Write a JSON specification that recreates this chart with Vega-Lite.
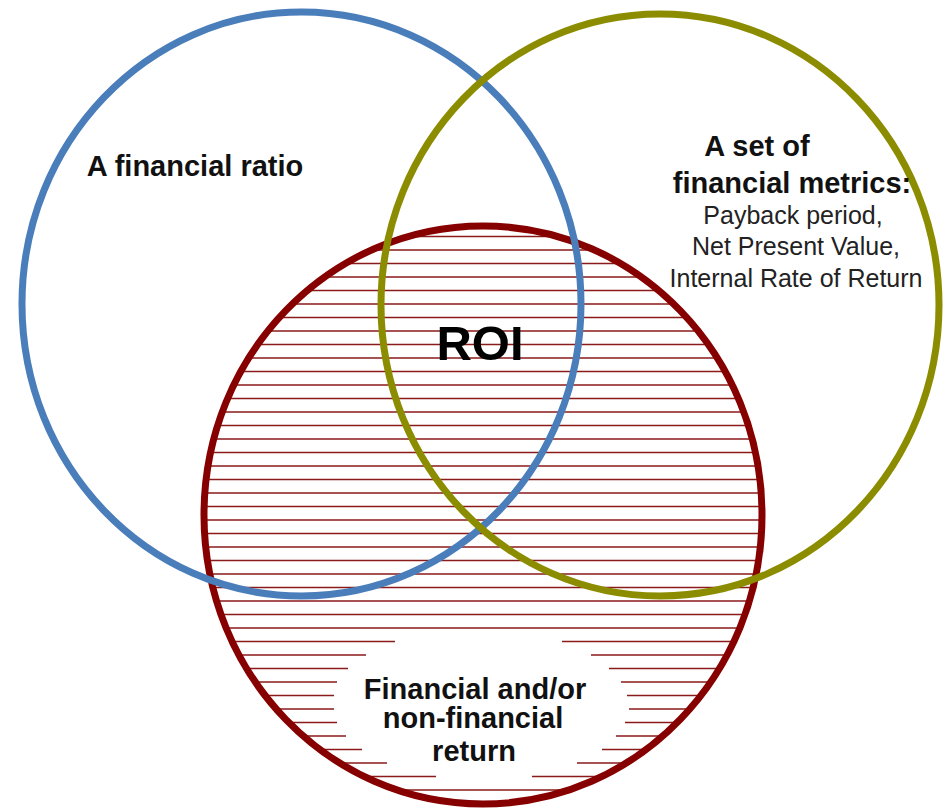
{
  "$schema": "https://vega.github.io/schema/vega-lite/v6.json",
  "width": 946,
  "height": 811,
  "padding": 0,
  "autosize": {"type": "none"},
  "background": "white",
  "config": {"view": {"stroke": null}},
  "datasets": {
    "hatch": [
      {"y": 236.5, "x1": 409, "x2": 558},
      {"y": 250, "x1": 372, "x2": 594},
      {"y": 263.5, "x1": 346, "x2": 621},
      {"y": 277, "x1": 325, "x2": 641},
      {"y": 290.5, "x1": 307, "x2": 659},
      {"y": 304, "x1": 292, "x2": 674},
      {"y": 317.5, "x1": 279, "x2": 687},
      {"y": 331, "x1": 268, "x2": 698},
      {"y": 344.5, "x1": 258, "x2": 708},
      {"y": 358, "x1": 249, "x2": 717},
      {"y": 371.5, "x1": 241, "x2": 725},
      {"y": 385, "x1": 234, "x2": 732},
      {"y": 398.5, "x1": 228, "x2": 738},
      {"y": 412, "x1": 222, "x2": 744},
      {"y": 425.5, "x1": 218, "x2": 748},
      {"y": 439, "x1": 214, "x2": 752},
      {"y": 452.5, "x1": 211, "x2": 755},
      {"y": 466, "x1": 208, "x2": 758},
      {"y": 479.5, "x1": 206, "x2": 760},
      {"y": 493, "x1": 205, "x2": 761},
      {"y": 506.5, "x1": 204, "x2": 762},
      {"y": 520, "x1": 204, "x2": 762},
      {"y": 533.5, "x1": 205, "x2": 761},
      {"y": 547, "x1": 206, "x2": 760},
      {"y": 560.5, "x1": 208, "x2": 758},
      {"y": 574, "x1": 210, "x2": 756},
      {"y": 587.5, "x1": 213, "x2": 753},
      {"y": 601, "x1": 217, "x2": 749},
      {"y": 614.5, "x1": 221, "x2": 745},
      {"y": 628, "x1": 226, "x2": 740},
      {"y": 641.5, "x1": 232, "x2": 395},
      {"y": 641.5, "x1": 562, "x2": 734},
      {"y": 655, "x1": 239, "x2": 366},
      {"y": 655, "x1": 591, "x2": 727},
      {"y": 668.5, "x1": 247, "x2": 348},
      {"y": 668.5, "x1": 609, "x2": 719},
      {"y": 682, "x1": 255, "x2": 337},
      {"y": 682, "x1": 621, "x2": 711},
      {"y": 695.5, "x1": 265, "x2": 334},
      {"y": 695.5, "x1": 627, "x2": 701},
      {"y": 709, "x1": 276, "x2": 334},
      {"y": 709, "x1": 629, "x2": 690},
      {"y": 722.5, "x1": 289, "x2": 337},
      {"y": 722.5, "x1": 625, "x2": 677},
      {"y": 736, "x1": 303, "x2": 346},
      {"y": 736, "x1": 616, "x2": 663},
      {"y": 749.5, "x1": 320, "x2": 362},
      {"y": 749.5, "x1": 602, "x2": 646},
      {"y": 763, "x1": 340, "x2": 387},
      {"y": 763, "x1": 577, "x2": 626},
      {"y": 776.5, "x1": 364, "x2": 436},
      {"y": 776.5, "x1": 532, "x2": 602},
      {"y": 790, "x1": 397, "x2": 569}
    ],
    "red": [{"set": "Return", "x": 483, "y": 515}],
    "blue": [{"set": "Financial ratio", "x": 301.5, "y": 304}],
    "olive": [{"set": "Financial metrics", "x": 660, "y": 305}],
    "bold": [
      {"label": "A financial ratio", "x": 195, "y": 176},
      {"label": "A set of", "x": 757, "y": 156},
      {"label": "financial metrics:", "x": 792, "y": 193},
      {"label": "Financial and/or", "x": 475, "y": 699},
      {"label": "non-financial", "x": 473, "y": 728},
      {"label": "return", "x": 474, "y": 761}
    ],
    "normal": [
      {"label": "Payback period,", "x": 793, "y": 224},
      {"label": "Net Present Value,", "x": 796, "y": 255},
      {"label": "Internal Rate of Return", "x": 796, "y": 287}
    ],
    "roi": [{"label": "ROI", "x": 480, "y": 360}]
  },
  "layer": [
    {
      "data": {"name": "hatch"},
      "mark": {"type": "rule", "stroke": "#8b1a1a", "strokeWidth": 1.4},
      "encoding": {
        "x": {"field": "x1", "type": "quantitative", "scale": {"domain": [0, 946], "nice": false, "zero": false}, "axis": null},
        "x2": {"field": "x2"},
        "y": {"field": "y", "type": "quantitative", "scale": {"domain": [0, 811], "reverse": true, "nice": false, "zero": false}, "axis": null}
      }
    },
    {
      "data": {"name": "red"},
      "mark": {"type": "point", "filled": false, "opacity": 1, "stroke": "#870000", "strokeWidth": 7, "size": 311364,
        "shape": "M0,-1.0358C0.5523,-1.0358,1,-0.5721,1,0C1,0.5721,0.5523,1.0358,0,1.0358C-0.5523,1.0358,-1,0.5721,-1,0C-1,-0.5721,-0.5523,-1.0358,0,-1.0358Z"},
      "encoding": {
        "x": {"field": "x", "type": "quantitative"},
        "y": {"field": "y", "type": "quantitative"}
      }
    },
    {
      "data": {"name": "blue"},
      "mark": {"type": "point", "filled": false, "opacity": 1, "stroke": "#4a7ebb", "strokeWidth": 7, "size": 312481,
        "shape": "M0,-1.0447C0.5523,-1.0447,1,-0.577,1,0C1,0.577,0.5523,1.0447,0,1.0447C-0.5523,1.0447,-1,0.577,-1,0C-1,-0.577,-0.5523,-1.0447,0,-1.0447Z"},
      "encoding": {
        "x": {"field": "x", "type": "quantitative"},
        "y": {"field": "y", "type": "quantitative"}
      }
    },
    {
      "data": {"name": "olive"},
      "mark": {"type": "point", "filled": false, "opacity": 1, "stroke": "#8c8c00", "strokeWidth": 7, "size": 311364,
        "shape": "M0,-1.043C0.5523,-1.043,1,-0.576,1,0C1,0.576,0.5523,1.043,0,1.043C-0.5523,1.043,-1,0.576,-1,0C-1,-0.576,-0.5523,-1.043,0,-1.043Z"},
      "encoding": {
        "x": {"field": "x", "type": "quantitative"},
        "y": {"field": "y", "type": "quantitative"}
      }
    },
    {
      "data": {"name": "bold"},
      "mark": {"type": "text", "font": "Liberation Sans", "fontWeight": "bold", "fontSize": 29, "align": "center", "baseline": "alphabetic", "color": "#111111"},
      "encoding": {
        "x": {"field": "x", "type": "quantitative"},
        "y": {"field": "y", "type": "quantitative"},
        "text": {"field": "label"}
      }
    },
    {
      "data": {"name": "normal"},
      "mark": {"type": "text", "font": "Liberation Sans", "fontSize": 25, "align": "center", "baseline": "alphabetic", "color": "#222222"},
      "encoding": {
        "x": {"field": "x", "type": "quantitative"},
        "y": {"field": "y", "type": "quantitative"},
        "text": {"field": "label"}
      }
    },
    {
      "data": {"name": "roi"},
      "mark": {"type": "text", "font": "Liberation Sans", "fontWeight": "bold", "fontSize": 49, "align": "center", "baseline": "alphabetic", "color": "#000000"},
      "encoding": {
        "x": {"field": "x", "type": "quantitative"},
        "y": {"field": "y", "type": "quantitative"},
        "text": {"field": "label"}
      }
    }
  ]
}
